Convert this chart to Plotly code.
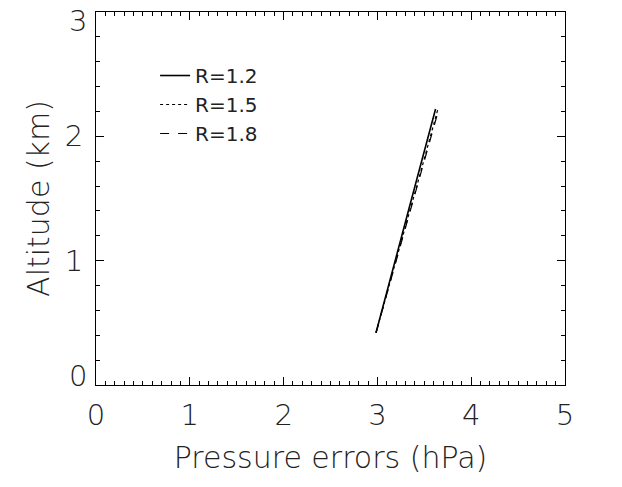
import plotly.graph_objects as go

altitude = [0.42, 0.6, 0.8, 1.0, 1.2, 1.4, 1.6, 1.8, 2.0, 2.22]
err_r12 = [2.985, 3.05, 3.12, 3.19, 3.26, 3.33, 3.40, 3.47, 3.54, 3.62]
err_r15 = [2.985, 3.05, 3.12, 3.195, 3.27, 3.345, 3.42, 3.49, 3.565, 3.645]
err_r18 = [2.985, 3.05, 3.125, 3.2, 3.275, 3.35, 3.425, 3.50, 3.575, 3.655]
labels = ["R=1.2", "R=1.5", "R=1.8"]
y_ticks = [0, 1, 2, 3]
y_ticktext = ["0", "1", "2", "3"]

fig = go.Figure()
fig.add_trace(go.Scatter(x=err_r12, y=altitude, mode="lines", name=labels[0], legendgroup="a",
                         line=dict(color="black", width=1.6, dash="solid")))
fig.add_trace(go.Scatter(x=err_r15, y=altitude, mode="lines", name=labels[1], legendgroup="b",
                         line=dict(color="black", width=1.2, dash="dot")))
fig.add_trace(go.Scatter(x=err_r18, y=altitude, mode="lines", name=labels[2], legendgroup="c",
                         line=dict(color="black", width=1.2, dash="dash")))

font_family = "DejaVu Sans, Liberation Sans, sans-serif"
tick_font = dict(family=font_family, size=29, color="#222", weight=300)
axis_common = dict(
    showline=True, linecolor="black", linewidth=1.2, mirror="ticks",
    ticks="inside", ticklen=8, tickcolor="black", tickwidth=1,
    showgrid=False, zeroline=False, ticklabeloverflow="allow", automargin=False,
    tickfont=tick_font,
)
fig.update_xaxes(range=[0, 5], dtick=1, tick0=0, ticklabelstandoff=4,
                 minor=dict(dtick=0.1, ticks="inside", ticklen=4, tickcolor="black"),
                 title=dict(text="Pressure errors (hPa)", font=dict(family=font_family, size=30, color="#222", weight=300), standoff=16),
                 **axis_common)
# end labels (0 and 3) are placed inside the frame's height, as in the reference
fig.update_yaxes(range=[0, 3], tickmode="array", tickvals=y_ticks,
                 ticktext=["" if v in (y_ticks[0], y_ticks[-1]) else t for v, t in zip(y_ticks, y_ticktext)],
                 ticklabelstandoff=6,
                 minor=dict(dtick=0.2, ticks="inside", ticklen=4, tickcolor="black"),
                 title=dict(text="Altitude (km)", font=dict(family=font_family, size=30, color="#222", weight=300), standoff=6),
                 **axis_common)
for v, t, anchor, ys in [(y_ticks[0], y_ticktext[0], "bottom", -10), (y_ticks[-1], y_ticktext[-1], "top", 10)]:
    fig.add_annotation(x=0, xref="paper", y=v, yref="y", text=t, showarrow=False,
                       xanchor="right", yanchor=anchor, xshift=-7, yshift=ys, font=tick_font)

fig.update_layout(
    width=622, height=487,
    margin=dict(l=96, r=57, t=12, b=102),
    plot_bgcolor="white", paper_bgcolor="white",
    showlegend=True,
    legend=dict(x=0.126, y=0.882, xanchor="left", yanchor="top",
                bgcolor="rgba(0,0,0,0)", font=dict(family=font_family, size=20, color="#222"),
                tracegroupgap=0, itemwidth=30),
)
fig.write_html("out.html")
